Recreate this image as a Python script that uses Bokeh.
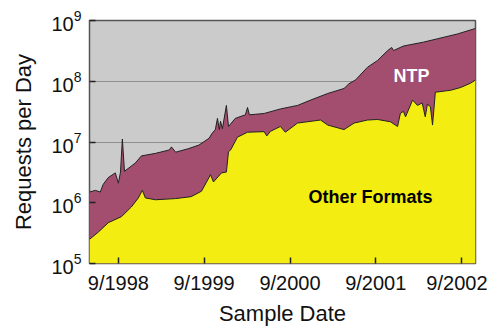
import pandas as pd
from bokeh.plotting import figure
from bokeh.models import FixedTicker, CustomJSTickFormatter, Label, Range1d
from bokeh.embed import file_html
from bokeh.resources import INLINE

# Total requests per day (top of NTP band)
total_dates = ["1998-05-01", "1998-05-26", "1998-06-16", "1998-06-28", "1998-07-20", "1998-08-19",
               "1998-09-01", "1998-09-10", "1998-09-18", "1998-09-27", "1998-11-12", "1998-12-08",
               "1999-02-06", "1999-04-06", "1999-04-15", "1999-05-03", "1999-06-28", "1999-08-10",
               "1999-09-22", "1999-10-06", "1999-10-19", "1999-10-28", "1999-11-05", "1999-11-10",
               "1999-11-18", "1999-12-05", "1999-12-14", "2000-01-12", "2000-02-24", "2000-03-04",
               "2000-03-12", "2000-05-14", "2000-07-22", "2000-10-03", "2000-11-28", "2001-02-09",
               "2001-04-19", "2001-05-10", "2001-06-07", "2001-07-28", "2001-09-09", "2001-10-22",
               "2001-11-08", "2001-11-16", "2001-12-28", "2002-03-23", "2002-05-22", "2002-08-15",
               "2002-10-31"]
total_values = [1.5e6, 1.6e6, 1.5e6, 2.0e6, 2.6e6, 3.1e6,
                2.1e6, 3.2e6, 1.12e7, 3.3e6, 4.5e6, 5.9e6,
                6.5e6, 7.4e6, 8.3e6, 6.8e6, 7.8e6, 8.9e6,
                1.15e7, 1.4e7, 1.6e7, 2.45e7, 1.6e7, 2.2e7,
                1.65e7, 4.0e7, 1.8e7, 2.45e7, 2.8e7, 3.7e7,
                2.8e7, 2.95e7, 3.5e7, 4.0e7, 4.9e7, 6.3e7,
                7.6e7, 9.1e7, 1.05e8, 1.7e8, 2.2e8, 3.2e8,
                3.6e8, 3.2e8, 3.8e8, 4.4e8, 5.0e8, 6.0e8,
                7.4e8]

# Other formats (top of yellow band)
other_dates = ["1998-05-01", "1998-06-08", "1998-07-20", "1998-09-14", "1998-10-26", "1998-11-25",
               "1998-12-12", "1998-12-25", "1999-02-06", "1999-05-03", "1999-07-08", "1999-08-21",
               "1999-09-22", "1999-09-28", "1999-10-11", "1999-11-14", "1999-12-05", "1999-12-14",
               "1999-12-23", "2000-01-21", "2000-03-04", "2000-05-14", "2000-05-25", "2000-06-10",
               "2000-07-22", "2000-08-12", "2000-10-03", "2001-01-09", "2001-02-09", "2001-04-19",
               "2001-06-01", "2001-07-28", "2001-09-09", "2001-11-03", "2001-12-03", "2001-12-15",
               "2001-12-28", "2002-01-06", "2002-02-05", "2002-02-26", "2002-03-18", "2002-03-31",
               "2002-04-09", "2002-04-22", "2002-05-01", "2002-05-13", "2002-07-17", "2002-08-29",
               "2002-10-10", "2002-10-31"]
other_values = [2.5e5, 3.3e5, 4.7e5, 5.9e5, 8.5e5, 1.2e6,
                1.6e6, 1.2e6, 1.12e6, 1.17e6, 1.26e6, 1.55e6,
                2.6e6, 2.9e6, 2.2e6, 3.1e6, 3.2e6, 6.9e6,
                7.4e6, 1.2e7, 1.45e7, 1.48e7, 1.26e7, 1.5e7,
                1.8e7, 1.45e7, 2.05e7, 2.3e7, 1.9e7, 1.6e7,
                2.05e7, 2.3e7, 2.35e7, 2.15e7, 1.8e7, 2.95e7,
                3.2e7, 2.6e7, 4.9e7, 4.0e7, 4.4e7, 2.6e7,
                4.2e7, 3.8e7, 1.9e7, 6.6e7, 7.1e7, 7.9e7,
                9.3e7, 1.05e8]

tick_dates = ["1998-09-01", "1999-09-01", "2000-09-01", "2001-09-01", "2002-09-01"]
x_start, x_end = "1998-05-01", "2002-10-31"
y_start, y_end = 1e5, 1e9

FONT = "Liberation Sans"
GREY = "#cbcbcb"
MAROON = "#a34d6f"
YELLOW = "#f3ed12"

td = pd.to_datetime(total_dates)
od = pd.to_datetime(other_dates)

p = figure(width=487, height=328, x_axis_type="datetime", y_axis_type="log",
           x_range=Range1d(pd.Timestamp(x_start), pd.Timestamp(x_end)),
           y_range=Range1d(y_start, y_end),
           output_backend="svg", toolbar_location=None,
           min_border_left=89, min_border_top=20, min_border_right=12, min_border_bottom=64)

p.background_fill_color = GREY
p.border_fill_color = "white"
p.outline_line_color = "#555555"
p.outline_line_width = 1.5

p.varea(x=td, y1=y_start, y2=total_values, fill_color=MAROON)
p.varea(x=od, y1=y_start, y2=other_values, fill_color=YELLOW)
p.line(td, total_values, line_color="#222222", line_width=1)
p.line(od, other_values, line_color="#222222", line_width=1)

p.xgrid.grid_line_color = None
p.ygrid.grid_line_color = "#8f8f8f"
p.ygrid.grid_line_width = 1
p.ygrid.level = "underlay"

ticks_ms = [pd.Timestamp(t).value // 10**6 for t in tick_dates]
p.xaxis.ticker = FixedTicker(ticks=ticks_ms)
p.xaxis.formatter = CustomJSTickFormatter(code="""
const d = new Date(tick);
return (d.getUTCMonth() + 1) + "/" + d.getUTCFullYear();
""")

for ax in (p.xaxis[0], p.yaxis[0]):
    ax.axis_line_color = None
    ax.major_tick_in = 6
    ax.major_tick_out = 0
    ax.major_tick_line_color = "#222222"
    ax.major_tick_line_width = 1.5
    ax.minor_tick_line_color = None
    ax.major_label_text_font = FONT
    ax.major_label_text_font_size = "20px"
    ax.major_label_text_color = "#111111"
    ax.axis_label_text_font = FONT
    ax.axis_label_text_font_size = "22px"
    ax.axis_label_text_font_style = "normal"
    ax.axis_label_text_color = "#111111"

p.xaxis.axis_label = "Sample Date"
p.yaxis.axis_label = "Requests per Day"
p.xaxis.major_label_standoff = 8
p.xaxis.axis_label_standoff = 4
p.yaxis.major_label_standoff = 8
p.yaxis.axis_label_standoff = 12
p.yaxis.ticker.num_minor_ticks = 0

p.add_layout(Label(x=pd.Timestamp("2002-01-31"), y=1.2e8, text="NTP",
                   text_font=FONT, text_font_size="18px", text_font_style="bold",
                   text_color="white", text_align="center", text_baseline="middle"))
p.add_layout(Label(x=pd.Timestamp("2001-08-10"), y=1.26e6, text="Other Formats",
                   text_font=FONT, text_font_size="18px", text_font_style="bold",
                   text_color="black", text_align="center", text_baseline="middle"))

open("out.html", "w").write(file_html(p, INLINE))
